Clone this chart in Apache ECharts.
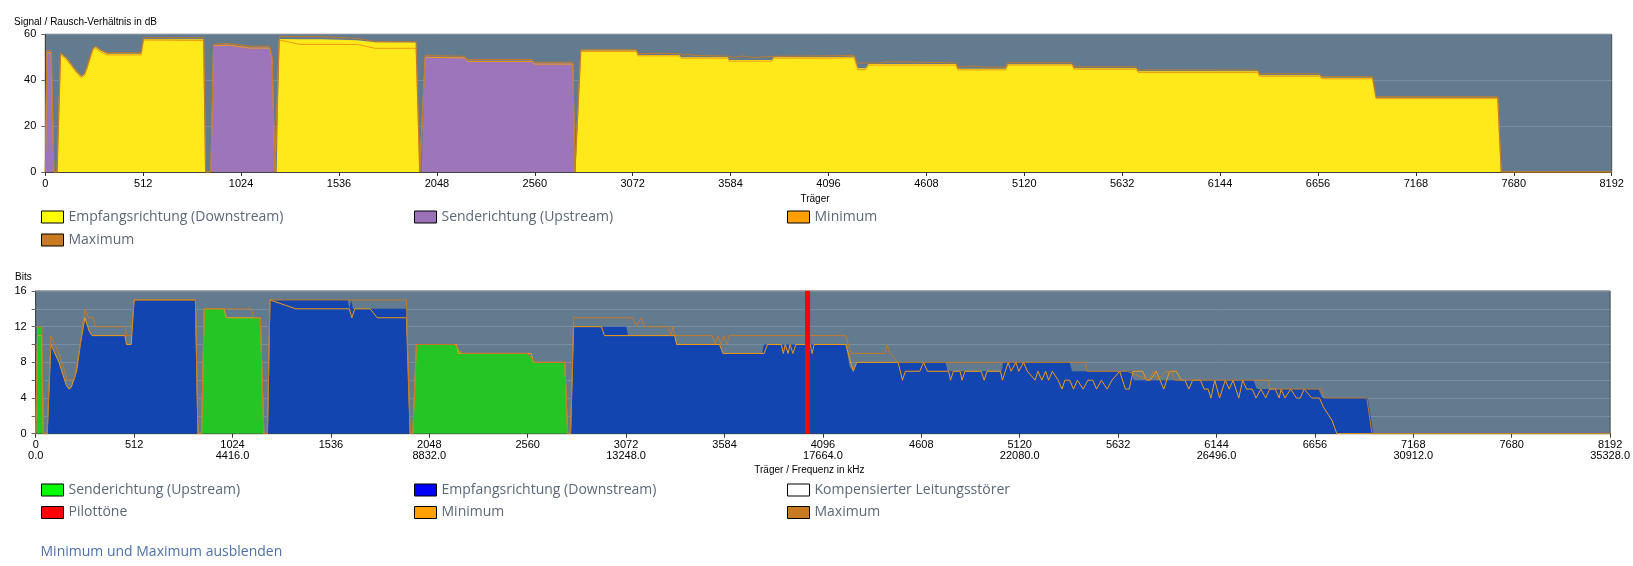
<!DOCTYPE html>
<html>
<head>
<meta charset="utf-8">
<script src="https://cdn.jsdelivr.net/npm/echarts@6/dist/echarts.min.js"></script>
<style>
    html, body {margin: 0; background: #fff}
    #chart {width: 1633px; height: 566px}
</style>
</head>
<body>
<div id="chart"></div>
<script>
// Signal/Rausch-Verhältnis (dB) pro Träger
const snrDown = [[62,0],[80,51.5],[88,51],[110,49.5],[137,46.5],[165,43.5],[189,41.5],[205,42.5],[220,45],[249,53.5],[264,54.5],[286,53],[323,51.5],[501,51.5],[514,57.8],[828,57.8],[838,0],
    [1210,0],[1224,58],[1332,57.8],[1444,57.8],[1631,57.4],[1724,56.5],[1939,56.4],[1958,0],
    [2772,0],[2801,52.9],[3091,52.9],[3100,51],[3315,51],[3325,50],[3570,50],[3576,48.8],[3800,48.8],[3810,50],[4099,50],[4230,50.2],[4249,45.2],[4290,45.2],[4305,47.1],[4762,47.1],[4772,45],[5023,45],[5033,47],[5369,47],[5380,45.2],[5705,45.2],[5715,43.9],[6341,43.9],[6350,42.2],[6665,42.2],[6675,41.1],[6941,41.1],[6959,32.4],[7596,32.4],[7614,0]]
const snrUp = [[0,0],[8,52.5],[32,52.5],[45,0],
    [866,0],[880,55.3],[957,55.6],[1070,54.3],[1173,54.3],[1186,50],[1201,0],
    [1968,0],[1987,50.3],[2192,50],[2210,48.5],[2545,48.5],[2560,47.4],[2759,47.4],[2770,0]]
const snrMin = [[0,0],[8,52],[30,52],[45,0],[62,0],[80,51],[110,49],[137,46],[165,43],[189,41],[205,42],[249,53],[264,54],[286,52.5],[323,51],[501,51],[514,57.5],[828,57.3],[838,0],
    [866,0],[880,55],[957,55.3],[1070,54],[1173,54],[1186,49.5],[1201,0],[1210,0],[1224,57.5],[1332,55.6],[1631,55.6],[1724,53.9],[1939,53.9],[1958,0],
    [1968,0],[1987,50],[2192,49.7],[2210,48.2],[2545,48.2],[2560,47],[2759,47],[2770,0],[2772,0],[2801,52.5],[3091,52.5],[3100,50.6],[3315,50.6],[3325,49.6],[3570,49.6],[3576,48.3],[3800,48.3],[3810,49.6],[4099,49.6],[4230,49.8],[4249,44.6],[4290,44.6],[4305,46.6],[4762,46.6],[4772,44.5],[5023,44.5],[5033,46.6],[5369,46.6],[5380,44.8],[5705,44.8],[5715,43.4],[6341,43.4],[6350,41.7],[6665,41.7],[6675,40.6],[6941,40.6],[6959,32],[7596,32],[7614,0],[8192,0]]
const snrMax = [[0,0],[8,53],[32,53],[45,0],[62,0],[80,52],[110,50],[137,47],[165,44],[189,42],[205,43],[249,54],[264,55],[286,53.5],[323,52],[501,52],[514,58.5],[828,58.5],[838,0],
    [866,0],[880,55.8],[957,56],[1070,54.8],[1173,54.8],[1186,50.5],[1201,0],[1210,0],[1224,59],[1444,59],[1631,58.2],[1724,56.8],[1939,56.8],[1958,0],
    [1968,0],[1987,50.8],[2192,50.4],[2210,49],[2545,49],[2560,47.8],[2759,47.8],[2770,0],[2772,0],[2801,53.3],[3091,53.3],[3100,51.5],[3200,51.8],[3315,51.5],[3340,50.8],[3360,51.5],[3380,50.8],[3570,50.5],[3600,49.8],[3650,50.6],[3700,49.8],[3800,50.4],[4099,50.6],[4230,50.8],[4249,47.5],[4360,47.5],[4400,48],[4762,47.6],[4772,45.7],[4850,46.2],[4900,45.7],[5023,45.7],[5033,47.6],[5369,47.6],[5380,45.8],[5705,45.8],[5715,44.5],[6341,44.4],[6350,42.8],[6665,42.8],[6675,41.6],[6941,41.6],[6959,32.8],[7596,32.8],[7614,0],[8192,0]]

// Bits pro Träger
const bitsUp = [[6,0],[10,12],[32,12],[40,0],
    [863,0],[877,14],[979,14],[992,13],[1169,13],[1187,0],
    [1962,0],[1981,10],[2180,10],[2218,9],[2560,9],[2597,8],[2753,8],[2768,0]]
const bitsDown = [[60,0],[79,10],[121,8],[158,5.5],[173,5],[185,5.2],[213,7],[232,10],[256,13],[278,11.5],[293,11],[464,11],[473,10],[497,10],[512,15],[831,15],[844,0],
    [1206,0],[1219,15],[1623,15],[1632,14],[1642,15],[1651,14],[1929,14],[1948,0],
    [2783,0],[2799,12],[3073,12],[3082,11],[3325,11],[3335,10],[3558,10],[3576,9],[3780,9],[3789,10],[4215,10],[4235,7.5],[4254,7],[4272,8],[4733,8],[4745,7],[5025,7],[5035,8],[5380,8],[5392,7],[5700,7],[5713,6],[6336,6],[6354,5],[6675,5],[6693,4],[6931,4],[6959,0]]
const bitsMin = [[0,0],[6,0],[10,11],[30,11],[40,0],[60,0],[79,10],[121,8],[158,5.5],[173,5],[185,5.2],[213,7],[232,10],[256,13],[278,11.5],[293,11],[464,11],[473,10],[497,10],[512,15],[831,15],[844,0],
    [863,0],[877,14],[979,14],[992,13],[1169,13],[1187,0],[1206,0],[1219,15],[1353,14],[1632,14],[1645,13],[1660,14],[1740,14],[1777,13],[1929,13],[1948,0],
    [1962,0],[1981,10],[2189,10],[2200,9],[2578,9],[2590,8],[2753,8],[2768,0],[2783,0],[2799,12],[2944,12],[2959,11],[3325,11],[3335,10],[3558,10],[3576,9],[3790,9],[3808,10],[3880,10],[3890,9],[3900,10],[3915,9],[3925,10],[3940,9],[3955,10],[4030,10],[4040,9],[4050,10],[4215,10],[4254,7],[4272,8],[4487,8],
    [4510,6],[4525,7],[4600,7],[4620,8],[4640,7],[4750,7],[4760,6],[4775,7],[4810,7],[4820,6],[4835,7],[4920,7],[4935,6],[4950,7],[5020,7],[5030,6],[5045,7],[5060,8],[5075,7],[5100,8],[5115,7],[5140,8],[5160,7],[5200,6],[5215,7],[5235,6],[5255,7],[5270,6],[5290,7],[5320,6],[5340,5],[5355,6],[5380,6],[5400,5],[5420,6],[5450,5],[5475,6],[5500,6],[5520,5],[5545,6],[5575,5],[5600,6],[5640,7],[5670,5],[5690,5],[5710,7],[5760,7],[5780,6],[5800,6],[5830,7],[5870,5],[5900,7],[5935,7],[5960,6],[5980,6],[6000,5],[6020,6],[6060,6],[6080,5],[6100,5],[6115,4],[6135,6],[6160,4],[6190,6],[6210,5],[6230,6],[6260,4],[6280,6],[6300,5],[6330,5],[6350,4],[6375,5],[6400,4],[6420,5],[6450,5],[6470,4],[6480,5],[6500,4],[6530,5],[6560,4],[6580,4],[6600,5],[6640,4],[6680,4],[6700,3],[6730,2],[6745,1.5],[6770,0],[8192,0]]
const bitsMax = [[0,0],[6,0],[10,12],[32,12],[40,0],[60,0],[79,11],[121,9],[165,6],[200,6],[232,10],[256,14],[275,13],[300,13],[310,12],[464,12],[473,11],[497,11],[512,15],[831,15],[844,0],
    [863,0],[877,14],[1122,14],[1135,13],[1169,13],[1187,0],[1206,0],[1219,15],[1929,15],[1948,0],
    [1962,0],[1981,10],[2180,10],[2218,9],[2560,9],[2597,8],[2753,8],[2768,0],[2783,0],[2799,13],[3106,13],[3125,12],[3150,13],[3165,12],[3293,12],[3305,11],[3315,12],[3325,11],[3520,11],[3535,10],[3550,11],[3565,10],[3580,11],[3595,10],[3610,11],[4215,11],[4243,9],[4420,9],[4430,10],[4445,9],[4490,8],
    [5461,8],[5470,7],[5681,7],[5790,6],[5818,7],[5836,6],[5882,7],[5909,7],[5927,6],[6413,6],[6422,5],[6688,5],[6706,4],[6926,4],[6953,0],[8192,0]]
const pilotTones = [[4016,16]]

// Frequenz-Beschriftung (kHz) unter den Trägern
const freqTicks = [[0,'0.0'],[1024,'4416.0'],[2048,'8832.0'],[3072,'13248.0'],[4096,'17664.0'],[5120,'22080.0'],[6144,'26496.0'],[7168,'30912.0'],[8192,'35328.0']]

const legendTop = ['Empfangsrichtung (Downstream)', 'Senderichtung (Upstream)', 'Minimum', 'Maximum']
const legendBottom = ['Senderichtung (Upstream)', 'Empfangsrichtung (Downstream)', 'Kompensierter Leitungsstörer', 'Pilottöne', 'Minimum', 'Maximum']
const linkText = 'Minimum und Maximum ausblenden'

const legendColors = {
    'Empfangsrichtung (Downstream)': ['#ffff00', '#0000ff'],
    'Senderichtung (Upstream)': ['#9b72b8', '#00ff00'],
    'Kompensierter Leitungsstörer': ['#ffffff', '#ffffff'],
    'Pilottöne': ['#ff0000', '#ff0000'],
    'Minimum': ['#ff9f00', '#ff9f00'],
    'Maximum': ['#c87a22', '#c87a22']
}

const tickFont = 'Liberation Sans'
const plotBg = '#637b8f'

function legendGraphics(names, which, top, rowGap) {
    const out = []
    names.forEach((name, i) => {
        const x = 41.5 + (i % 3) * 373
        const y = top + Math.floor(i / 3) * rowGap
        out.push({type: 'rect', shape: {x: x, y: y - 6, width: 22, height: 12},
            style: {fill: legendColors[name][which], stroke: '#000', lineWidth: 1}})
        out.push({type: 'text', x: x + 27, y: y,
            style: {text: name, fontSize: 14, fontFamily: 'Open Sans', fill: '#5b6878', verticalAlign: 'middle'}})
    })
    return out
}

function xAxis(gridIndex, name, nameGap, withFreq) {
    return {
        type: 'value', gridIndex: gridIndex, min: 0, max: 8192, interval: 512,
        name: name, nameLocation: 'middle', nameGap: nameGap,
        nameTextStyle: {fontSize: 10, fontFamily: tickFont, color: '#000', padding: [0, 27, 0, 0]},
        axisLine: {show: true, lineStyle: {color: '#444', width: 1}},
        axisTick: {show: true, length: 4, lineStyle: {color: '#333'}},
        axisLabel: {
            fontSize: 11, fontFamily: tickFont, color: '#000', margin: 6, lineHeight: 11,
            formatter: v => {
                if (!withFreq) return String(v)
                const f = freqTicks.find(t => t[0] === v)
                return v + '\n' + (f ? f[1] : '')
            }
        },
        splitLine: {show: false}
    }
}

function yAxis(gridIndex, max, interval, labelStep) {
    return {
        type: 'value', gridIndex: gridIndex, min: 0, max: max, interval: interval,
        axisLine: {show: true, lineStyle: {color: '#444'}},
        axisTick: {show: true, length: 4, lineStyle: {color: '#666'}},
        axisLabel: {fontSize: 11, fontFamily: tickFont, color: '#000', margin: 9,
            formatter: v => (v % labelStep === 0 ? String(v) : '')},
        splitLine: {show: true, lineStyle: {color: '#7a8ea0', width: 1}}
    }
}

function area(name, data, color, xi) {
    return {name: name, type: 'line', xAxisIndex: xi, yAxisIndex: xi, data: data,
        showSymbol: false, symbol: 'none', lineStyle: {width: 0}, itemStyle: {color: color},
        areaStyle: {color: color, opacity: 1}, z: 2}
}

function line(name, data, color, xi, z) {
    return {name: name, type: 'line', xAxisIndex: xi, yAxisIndex: xi, data: data,
        showSymbol: false, symbol: 'none', lineStyle: {width: 1, color: color}, itemStyle: {color: color}, z: z}
}

const chart = echarts.init(document.getElementById('chart'), null, {renderer: 'canvas'})

chart.setOption({
    animation: false,
    title: [
        {text: 'Signal / Rausch-Verhältnis in dB', left: 14, top: 17, padding: 0,
            textStyle: {fontSize: 10, fontWeight: 'normal', fontFamily: tickFont, color: '#000'}},
        {text: 'Bits', left: 15, top: 272, padding: 0,
            textStyle: {fontSize: 10, fontWeight: 'normal', fontFamily: tickFont, color: '#000'}}
    ],
    grid: [
        {left: 45.3, right: 21.3, top: 34.3, height: 137.7, show: true, backgroundColor: plotBg, borderColor: '#4a4a4a', borderWidth: 1},
        {left: 35.7, right: 21.3, top: 291, height: 142.7, show: true, backgroundColor: plotBg, borderColor: '#4a4a4a', borderWidth: 1}
    ],
    xAxis: [
        xAxis(0, 'Träger', 22, false),
        xAxis(1, 'Träger / Frequenz in kHz', 32, true)
    ],
    yAxis: [
        yAxis(0, 60, 20, 20),
        yAxis(1, 16, 2, 4)
    ],
    series: [
        area('Empfangsrichtung (Downstream)', snrDown, '#ffe91a', 0),
        area('Senderichtung (Upstream)', snrUp, '#9d75bb', 0),
        line('Minimum', snrMin, '#f29a12', 0, 3),
        line('Maximum', snrMax, '#c27a2a', 0, 4),

        area('Senderichtung (Upstream)', bitsUp, '#26c526', 1),
        area('Empfangsrichtung (Downstream)', bitsDown, '#1345b1', 1),
        {name: 'Kompensierter Leitungsstörer', type: 'line', xAxisIndex: 1, yAxisIndex: 1, data: []},
        line('Minimum', bitsMin, '#f29a12', 1, 3),
        line('Maximum', bitsMax, '#c27a2a', 1, 4),
        {name: 'Pilottöne', type: 'bar', xAxisIndex: 1, yAxisIndex: 1, data: pilotTones,
            barWidth: 5, itemStyle: {color: '#ff0000'}, z: 6}
    ],
    graphic: [
        ...legendGraphics(legendTop, 0, 217, 23),
        ...legendGraphics(legendBottom, 1, 490, 22.5),
        {type: 'text', x: 40.5, y: 552,
            style: {text: linkText, fontSize: 14, fontFamily: 'Open Sans', fill: '#4d72ab', verticalAlign: 'middle'}}
    ]
})
</script>
</body>
</html>
